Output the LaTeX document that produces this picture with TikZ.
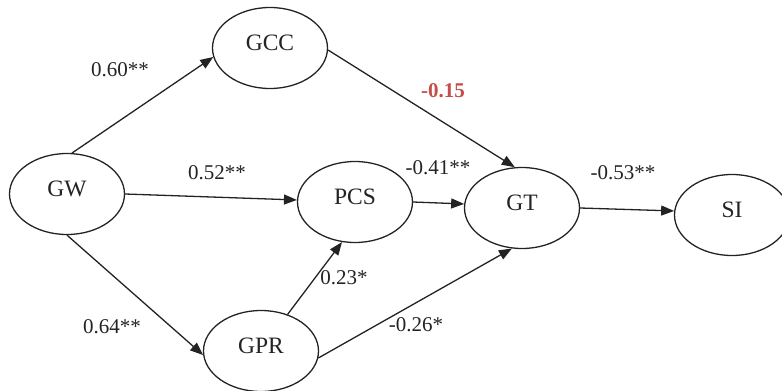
\documentclass[tikz,border=0pt]{standalone}
\usepackage{fontspec}
\setmainfont{Liberation Serif}
\usetikzlibrary{shapes.geometric,arrows.meta}
\definecolor{nonsig}{RGB}{196,78,74}
\definecolor{ink}{RGB}{35,35,35}
\begin{document}
\begin{tikzpicture}[x=1pt,y=-1pt,
  construct/.style={ellipse,draw=ink,line width=1.3pt,minimum width=115pt,minimum height=81pt,inner sep=0pt},
  cname/.style={font=\fontsize{23.5}{26}\selectfont,text=ink,yshift=5pt},
  path/.style={draw=ink,line width=1.3pt,-{Triangle[length=13pt,width=10pt]}},
  coef/.style={font=\fontsize{21}{24}\selectfont,text=ink}]
  \useasboundingbox (0,0) rectangle (782,391);

  % latent constructs
  \node[construct,label={[cname]center:GW}]  (gw)  at (67,194)  {};
  \node[construct,label={[cname]center:GCC}] (gcc) at (270,48)  {};
  \node[construct,label={[cname]center:PCS}] (pcs) at (355,202) {};
  \node[construct,label={[cname]center:GT}]  (gt)  at (522,208) {};
  \node[construct,label={[cname]center:SI}]  (si)  at (732,215) {};
  \node[construct,label={[cname]center:GPR}] (gpr) at (261,351) {};

  % structural paths
  \draw[path] (gw.83)   -- (gcc.189);
  \draw[path] (gw.east) -- (pcs.178);
  \draw[path] (gw.south) -- (gpr.184);
  \draw[path] (gcc.358) -- (gt.100);
  \draw[path] (pcs.east) -- (gt.176);
  \draw[path] (gpr.54)  -- (pcs.252);
  \draw[path] (gpr.353) -- (gt.256);
  \draw[path] (gt.east) -- (si.176);

  % path coefficients
  \node[coef] (c1) at (120,70)  {0.60**};
  \node[coef] (c2) at (217,173) {0.52**};
  \node[coef] (c3) at (112,327) {0.64**};
  \node[coef,text=nonsig,font=\fontsize{21}{24}\selectfont\bfseries] (c4) at (443,91) {-0.15};
  \node[coef] (c5) at (438,168) {-0.41**};
  \node[coef] (c6) at (623,173) {-0.53**};
  \node[coef] (c7) at (344,278) {0.23*};
  \node[coef] (c8) at (416,325) {-0.26*};
\end{tikzpicture}
\end{document}
